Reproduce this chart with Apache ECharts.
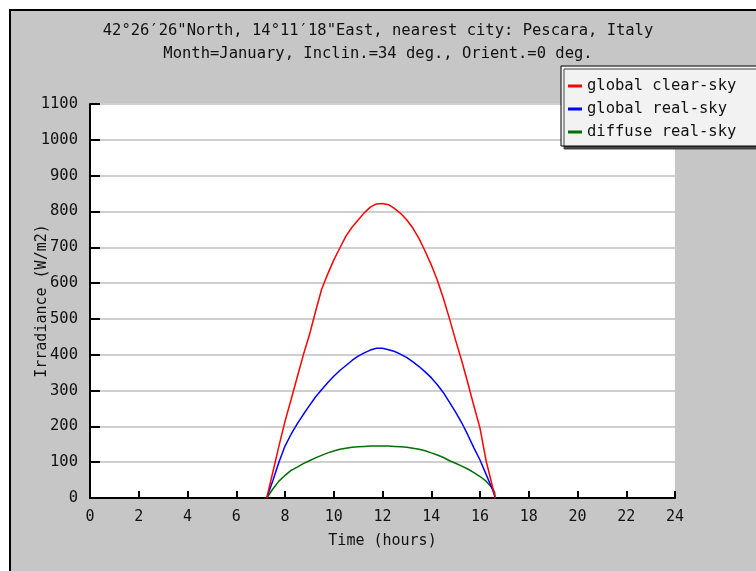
<!DOCTYPE html>
<html>
<head>
<meta charset="utf-8">
<script src="https://cdn.jsdelivr.net/npm/echarts@6/dist/echarts.min.js"></script>
<style>
html,body{margin:0;padding:0;background:#ffffff;}
#chart{width:756px;height:571px;}
</style>
</head>
<body>
<div id="chart"></div>
<script>
var titleLines = ['42°26′26"North, 14°11′18"East, nearest city: Pescara, Italy', 'Month=January, Inclin.=34 deg., Orient.=0 deg.'];
var xAxisName = 'Time (hours)';
var yAxisName = 'Irradiance (W/m2)';
var seriesNames = ['global clear-sky', 'global real-sky', 'diffuse real-sky'];

var hours    = [7.25, 7.5, 7.75, 8, 8.25, 8.5, 8.75, 9, 9.25, 9.5, 9.75, 10, 10.25, 10.5, 10.75, 11, 11.25, 11.5, 11.75, 12, 12.25, 12.5, 12.75, 13, 13.25, 13.5, 13.75, 14, 14.25, 14.5, 14.75, 15, 15.25, 15.5, 15.75, 16, 16.25, 16.5, 16.6, 16.62];
var clearSky = [0, 72, 145, 214, 275, 337, 399, 455, 520, 582, 625, 664, 698, 731, 756, 776, 796, 812, 821, 822, 819, 808, 794, 776, 753, 724, 689, 651, 608, 557, 500, 440, 383, 321, 257, 195, 104, 35, 8, 0];
var realSky  = [0, 48, 100, 145, 178, 207, 233, 258, 282, 302, 322, 340, 356, 370, 384, 396, 405, 413, 418, 418, 414, 409, 401, 392, 380, 367, 352, 336, 316, 294, 267, 240, 210, 176, 140, 106, 66, 26, 6, 0];
var diffuse  = [0, 25, 47, 63, 77, 86, 96, 104, 112, 119, 126, 131, 136, 139, 142, 143, 144, 145, 145, 145, 145, 144, 143, 142, 139, 136, 132, 126, 120, 113, 104, 97, 89, 81, 71, 60, 47, 28, 16, 0];

function zip(xs, ys){ return xs.map(function(x,i){ return [x, ys[i]]; }); }

var FONT = 'DejaVu Sans Mono';
var chart = echarts.init(document.getElementById('chart'), null, {renderer:'canvas'});
chart.setOption({
  backgroundColor: '#ffffff',
  animation: false,
  textStyle: {fontFamily: FONT},
  graphic: [
    {type:'rect', z:-10, silent:true, shape:{x:10, y:10, width:800, height:620},
     style:{fill:'#c6c6c6', stroke:'#000000', lineWidth:2}},
    {type:'rect', z:5, silent:true, shape:{x:561, y:66, width:220, height:80},
     style:{fill:'#f2f2f2', stroke:'#000000', lineWidth:1, shadowColor:'#444444', shadowOffsetX:3, shadowOffsetY:3, shadowBlur:0}}
  ],
  title: {
    text: titleLines.join('\n'),
    left: 'center',
    top: 19,
    padding: 0,
    textStyle: {fontFamily: FONT, fontSize: 15.5, fontWeight: 'normal', color: '#111111', lineHeight: 23}
  },
  legend: {
    orient: 'vertical',
    left: 563,
    top: 73,
    z: 10,
    itemGap: 7,
    itemWidth: 14,
    itemHeight: 3,
    icon: 'rect',
    textStyle: {fontFamily: FONT, fontSize: 15.5, color: '#111111'},
    data: seriesNames
  },
  grid: {left: 90, top: 104, right: 81, bottom: 73, show: true, backgroundColor: '#ffffff', borderWidth: 0, containLabel: false, outerBoundsMode: 'none'},
  xAxis: {
    type: 'value', min: 0, max: 24, interval: 2,
    name: xAxisName, nameLocation: 'middle', nameGap: 36, nameMoveOverlap: false,
    nameTextStyle: {fontFamily: FONT, fontSize: 15, color: '#111111'},
    axisLine: {show: true, onZero: false, lineStyle: {color: '#000000', width: 2}},
    axisTick: {show: true, inside: true, length: 7, lineStyle: {color: '#000000', width: 2}},
    axisLabel: {fontFamily: FONT, fontSize: 15, color: '#111111', margin: 12},
    splitLine: {show: false}
  },
  yAxis: {
    type: 'value', min: 0, max: 1100, interval: 100,
    name: yAxisName, nameLocation: 'middle', nameGap: 40, nameMoveOverlap: false,
    nameTextStyle: {fontFamily: FONT, fontSize: 15, color: '#111111'},
    axisLine: {show: true, lineStyle: {color: '#000000', width: 2}},
    axisTick: {show: true, inside: true, length: 10, lineStyle: {color: '#000000', width: 2}},
    axisLabel: {fontFamily: FONT, fontSize: 15.5, color: '#111111', margin: 12, formatter: function(v){ return String(v); }},
    splitLine: {show: true, lineStyle: {color: '#cfcfcf', width: 2}}
  },
  series: [
    {name: seriesNames[0], type: 'line', data: zip(hours, clearSky), showSymbol: false, symbol: 'none', lineStyle: {color: '#ff0000', width: 1.5}, itemStyle: {color: '#ff0000'}, z: 4},
    {name: seriesNames[1], type: 'line', data: zip(hours, realSky), showSymbol: false, symbol: 'none', lineStyle: {color: '#0000ff', width: 1.5}, itemStyle: {color: '#0000ff'}, z: 3},
    {name: seriesNames[2], type: 'line', data: zip(hours, diffuse), showSymbol: false, symbol: 'none', lineStyle: {color: '#007000', width: 1.5}, itemStyle: {color: '#007000'}, z: 2}
  ]
});
</script>
</body>
</html>
